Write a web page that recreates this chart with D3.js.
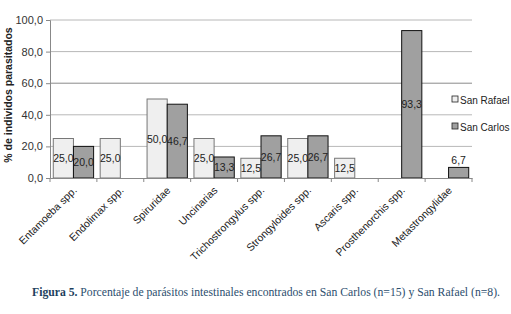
<!DOCTYPE html>
<meta charset="utf-8">
<script src="https://d3js.org/d3.v7.min.js"></script>
<style>
  body { margin: 0; background: #fff; }
  text { font-family: "Liberation Sans", Arial, sans-serif; }
</style>
<div id="my_dataviz"></div>
<script>

    // data
    var parasites = ["Entamoeba spp.", "Endolimax spp.", "Spiruridae", "Uncinarias",
                     "Trichostrongylus spp.", "Strongyloides spp.", "Ascaris spp.",
                     "Prosthenorchis spp.", "Metastrongylidae"];
    var seriesNames = ["San Rafael", "San Carlos"];
    var sanRafael = [25.0, 25.0, 50.0, 25.0, 12.5, 25.0, 12.5, null, null];
    var sanCarlos = [20.0, null, 46.7, 13.3, 26.7, 26.7, null, 93.3, 6.7];
    var yTicks = [0, 20, 40, 60, 80, 100];

    var W = 511, H = 314;
    var margin = {top: 20, left: 50, right: 39, bottom: 136};
    var width = W - margin.left - margin.right,
        height = H - margin.top - margin.bottom;

    var fmt = function(v) { return v.toFixed(1).replace(".", ","); };
    var fills = ["#efefef", "#a0a0a0"];

    var svg = d3.select("#my_dataviz")
      .append("svg")
        .attr("width", W)
        .attr("height", H);

    var g = svg.append("g")
        .attr("transform", "translate(" + margin.left + "," + margin.top + ")");

    var x = d3.scaleBand().domain(parasites).range([0, width]).paddingInner(0).paddingOuter(0);
    var xs = d3.scaleBand().domain(seriesNames).range([x.bandwidth() * 0.07, x.bandwidth() * 0.93]);
    var y = d3.scaleLinear().domain([0, 100]).range([height, 0]);

    // gridlines
    g.selectAll(".grid")
      .data(yTicks.filter(function(d) { return d > 0; }))
      .enter().append("line")
        .attr("x1", 0).attr("x2", width)
        .attr("y1", function(d) { return y(d); })
        .attr("y2", function(d) { return y(d); })
        .attr("stroke", function(d) { return d === 60 ? "#8a8a8a" : "#b8b8b8"; })
        .attr("stroke-width", 1);

    // bars
    var table = [];
    parasites.forEach(function(p, i) {
      table.push({cat: p, s: seriesNames[0], v: sanRafael[i], k: 0});
      table.push({cat: p, s: seriesNames[1], v: sanCarlos[i], k: 1});
    });
    table = table.filter(function(d) { return d.v !== null; });

    g.selectAll(".bar")
      .data(table)
      .enter().append("rect")
        .attr("x", function(d) { return x(d.cat) + xs(d.s); })
        .attr("y", function(d) { return y(d.v); })
        .attr("width", xs.bandwidth())
        .attr("height", function(d) { return height - y(d.v); })
        .attr("fill", function(d) { return fills[d.k]; })
        .attr("stroke", function(d) { return d.k ? "#111" : "#777"; })
        .attr("stroke-width", 1);

    // value labels, centred in the bar (above when bar is too short)
    g.selectAll(".lbl")
      .data(table)
      .enter().append("text")
        .attr("x", function(d) { return x(d.cat) + xs(d.s) + xs.bandwidth() / 2; })
        .attr("y", function(d) {
          var h = height - y(d.v);
          return h < 14 ? y(d.v) - 3 : (y(d.v) + height) / 2 + 4;
        })
        .attr("text-anchor", "middle")
        .attr("font-size", 10.5)
        .attr("fill", "#222")
        .text(function(d) { return fmt(d.v); });

    // y axis
    var yAxis = g.append("g")
        .call(d3.axisLeft(y).tickValues(yTicks).tickFormat(fmt).tickSize(4).tickPadding(3));
    yAxis.select(".domain").attr("stroke", "#888");
    yAxis.selectAll(".tick line").attr("stroke", "#888");
    yAxis.selectAll("text").attr("font-size", 11).attr("fill", "#333")
        .style("font-family", "Liberation Sans, Arial, sans-serif");

    // x axis
    var xAxis = g.append("g")
        .attr("transform", "translate(0," + height + ")")
        .call(d3.axisBottom(x).tickSize(0).tickPadding(0));
    xAxis.select(".domain").attr("stroke", "#888");
    xAxis.selectAll(".tick text")
        .attr("font-size", 10.5)
        .attr("fill", "#222")
        .style("font-family", "Liberation Sans, Arial, sans-serif")
        .attr("text-anchor", "end")
        .attr("dy", 0)
        .attr("transform", "translate(4,13) rotate(-45)");
    // tick marks between categories
    g.selectAll(".xtick")
      .data(parasites.concat(["end"]))
      .enter().append("line")
        .attr("x1", function(d, i) { return i * x.step(); })
        .attr("x2", function(d, i) { return i * x.step(); })
        .attr("y1", height).attr("y2", height + 4)
        .attr("stroke", "#888");

    // axis title
    svg.append("text")
        .attr("transform", "translate(12," + (margin.top + height / 2 - 4) + ") rotate(-90)")
        .attr("text-anchor", "middle")
        .attr("font-size", 10.5)
        .attr("font-weight", "bold")
        .attr("fill", "#222")
        .text("% de individos parasitados");

    // legend
    var legend = svg.append("g").attr("transform", "translate(452,100)");
    seriesNames.forEach(function(s, i) {
      var row = legend.append("g").attr("transform", "translate(0," + (i * 27) + ")");
      row.append("rect").attr("x", 0).attr("y", -4).attr("width", 6).attr("height", 6)
        .attr("fill", fills[i]).attr("stroke", "#222").attr("stroke-width", 0.8);
      row.append("text").attr("x", 8).attr("y", 4)
        .attr("font-size", 10).attr("fill", "#222").text(s);
    });

    // caption
    var cap = svg.append("text")
        .attr("x", 32).attr("y", 296)
        .attr("font-size", 12)
        .attr("textLength", 468)
        .attr("lengthAdjust", "spacingAndGlyphs")
        .style("font-family", "Liberation Serif, Times New Roman, serif");
    cap.append("tspan").attr("font-weight", "bold").attr("fill", "#1d3f5e").text("Figura 5.");
    cap.append("tspan").attr("fill", "#2c4e6e")
      .text(" Porcentaje de parásitos intestinales encontrados en San Carlos (n=15) y San Rafael (n=8).");
</script>
